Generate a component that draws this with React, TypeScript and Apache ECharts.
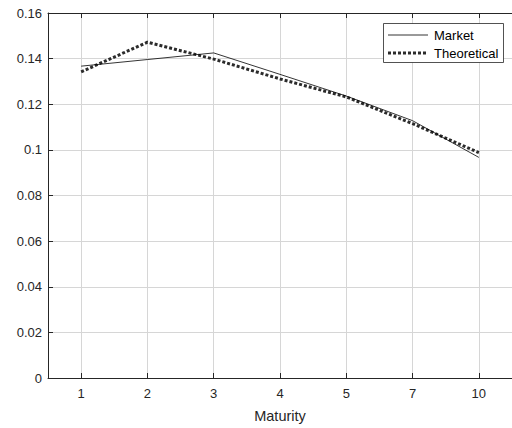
import React, { useEffect, useRef } from "react";
import * as echarts from "echarts";

const categories = ["1", "2", "3", "4", "5", "7", "10"];
const market = [0.1367, 0.1396, 0.1425, 0.1331, 0.1236, 0.1128, 0.0967];
const theoretical = [0.1342, 0.1472, 0.1398, 0.1311, 0.1232, 0.1115, 0.0988];
const seriesNames = ["Market", "Theoretical"];

const FONT = "'Liberation Sans', Arial, sans-serif";
const AXIS = "#262626";
const GRID = "#d6d6d6";
const MARKET_STYLE = { color: "#000", width: 0.8 };
const THEO_STYLE = { color: "#2b2b2b", width: 3, dash: [3, 2] as number[] };

const toPoints = (vals: number[]) => vals.map((v, i) => [i + 1, v]);

export default function App() {
  const ref = useRef<HTMLDivElement>(null);
  useEffect(() => {
    if (!ref.current) return;
    const chart = echarts.init(ref.current, undefined, { renderer: "svg" });
    const xCommon = {
      type: "value",
      min: 0.5,
      max: 7.5,
      splitNumber: 7,
    };
    const lx = 383, ly = 23, lw = 120, lh = 39;
    chart.setOption({
      animation: false,
      backgroundColor: "#fff",
      grid: { left: 48, right: -2, top: 13, bottom: 47, containLabel: false },
      graphic: [
        {
          type: "rect",
          shape: { x: lx + 0.5, y: ly + 0.5, width: lw, height: lh },
          style: { fill: "#fff", stroke: AXIS, lineWidth: 0.8 },
          z: 100,
        },
        {
          type: "line",
          shape: { x1: lx + 5, y1: ly + 12, x2: lx + 45, y2: ly + 12 },
          style: { stroke: MARKET_STYLE.color, lineWidth: MARKET_STYLE.width },
          z: 101,
        },
        {
          type: "line",
          shape: { x1: lx + 5, y1: ly + 30, x2: lx + 45, y2: ly + 30 },
          style: { stroke: THEO_STYLE.color, lineWidth: THEO_STYLE.width, lineDash: THEO_STYLE.dash, lineCap: "butt" },
          z: 101,
        },
        {
          type: "text",
          x: lx + 51,
          y: ly + 12,
          style: { text: seriesNames[0], fontFamily: FONT, fontSize: 13, fill: "#000", verticalAlign: "middle", align: "left" },
          z: 101,
        },
        {
          type: "text",
          x: lx + 51,
          y: ly + 30,
          style: { text: seriesNames[1], fontFamily: FONT, fontSize: 13, fill: "#000", verticalAlign: "middle", align: "left" },
          z: 101,
        },
      ],
      xAxis: [
        {
          ...xCommon,
          name: "Maturity",
          nameLocation: "middle",
          nameGap: 30,
          nameTextStyle: { fontFamily: FONT, fontSize: 14.5, color: AXIS },
          axisLine: { show: true, onZero: false, lineStyle: { color: AXIS, width: 1 } },
          axisTick: { show: true, inside: true, length: 5, lineStyle: { color: AXIS } },
          axisLabel: {
            fontFamily: FONT,
            fontSize: 13,
            color: AXIS,
            margin: 9,
            showMinLabel: false,
            showMaxLabel: false,
            formatter: (v: number) => {
              const i = Math.round(v) - 1;
              return Math.abs(v - Math.round(v)) < 1e-6 && i >= 0 && i < categories.length ? categories[i] : "";
            },
          },
          splitLine: { show: true, lineStyle: { color: GRID, width: 1 } },
        },
        {
          ...xCommon,
          position: "top",
          axisLine: { show: true, onZero: false, lineStyle: { color: AXIS, width: 1 } },
          axisTick: { show: true, inside: true, length: 5, lineStyle: { color: AXIS } },
          axisLabel: { show: false },
          splitLine: { show: false },
        },
      ],
      yAxis: [
        {
          type: "value",
          min: 0,
          max: 0.16,
          interval: 0.02,
          axisLine: { show: true, onZero: false, lineStyle: { color: AXIS, width: 1 } },
          axisTick: { show: true, inside: true, length: 5, lineStyle: { color: AXIS } },
          axisLabel: {
            fontFamily: FONT,
            fontSize: 13,
            color: AXIS,
            margin: 6,
            formatter: (v: number) => (v === 0 ? "0" : String(Number(v.toFixed(2)))),
          },
          splitLine: { show: true, lineStyle: { color: GRID, width: 1 } },
        },
        {
          type: "value",
          min: 0,
          max: 0.16,
          interval: 0.02,
          position: "right",
          axisLine: { show: true, onZero: false, lineStyle: { color: AXIS, width: 1 } },
          axisTick: { show: false },
          axisLabel: { show: false },
          splitLine: { show: false },
        },
      ],
      series: [
        {
          name: seriesNames[0],
          type: "line",
          data: toPoints(market),
          symbol: "none",
          lineStyle: { color: MARKET_STYLE.color, width: MARKET_STYLE.width },
          itemStyle: { color: MARKET_STYLE.color },
          z: 3,
        },
        {
          name: seriesNames[1],
          type: "line",
          data: toPoints(theoretical),
          symbol: "none",
          lineStyle: { color: THEO_STYLE.color, width: THEO_STYLE.width, type: THEO_STYLE.dash, cap: "butt" },
          itemStyle: { color: THEO_STYLE.color },
          z: 2,
        },
      ],
    });
    return () => chart.dispose();
  }, []);
  return <div ref={ref} style={{ width: 512, height: 428, position: "absolute", left: 0, top: 0 }} />;
}
